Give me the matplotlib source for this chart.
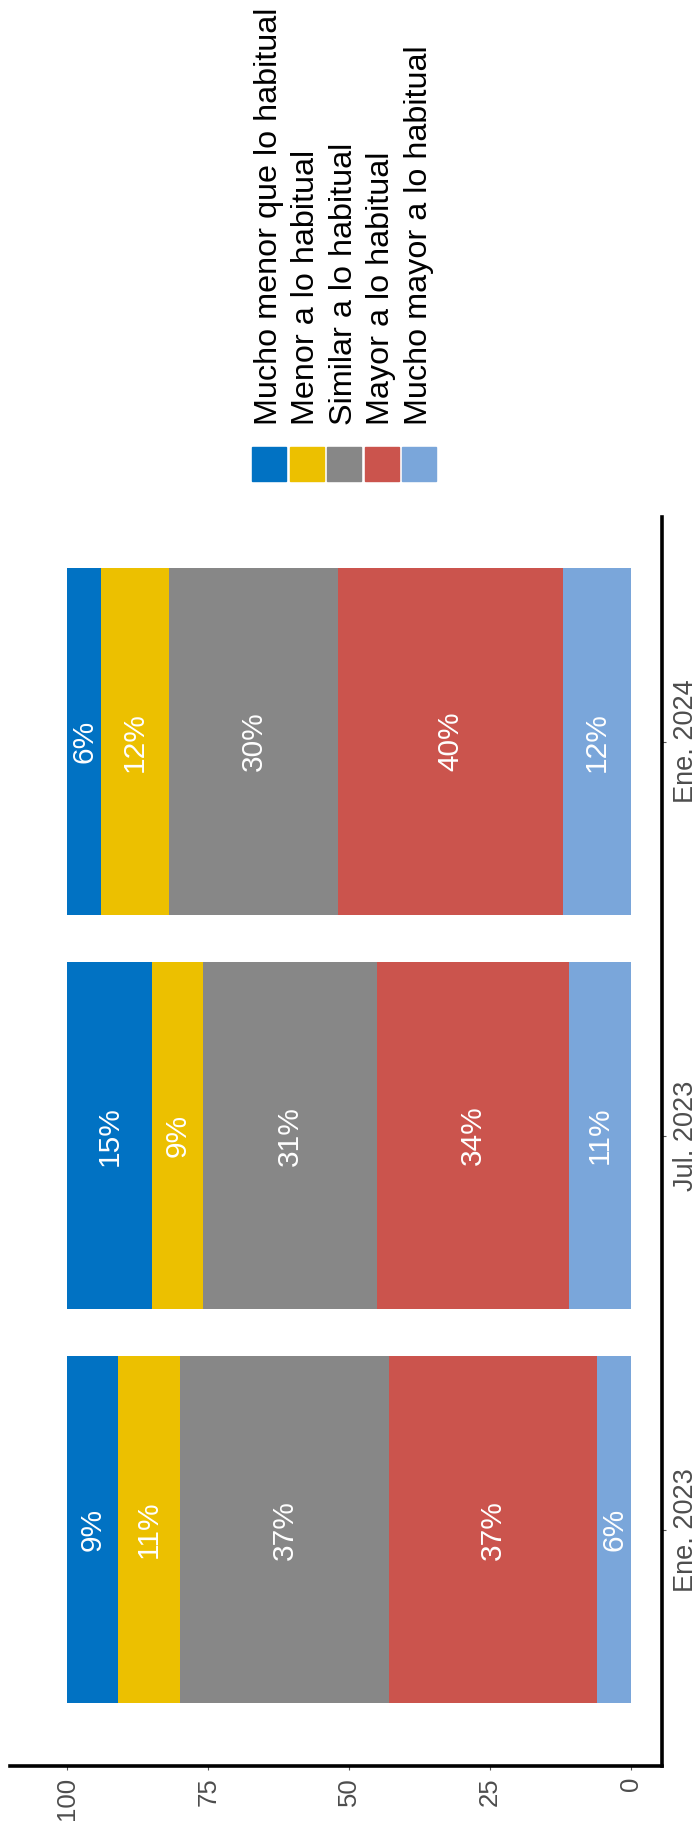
import matplotlib
matplotlib.use("Agg")
import matplotlib.pyplot as plt
from matplotlib.patches import Rectangle

plt.rcParams['font.family'] = ['Liberation Sans', 'DejaVu Sans']

# datos
periodos = ['Ene. 2023', 'Jul. 2023', 'Ene. 2024']
categorias = ['Mucho menor que lo habitual', 'Menor a lo habitual',
              'Similar a lo habitual', 'Mayor a lo habitual',
              'Mucho mayor a lo habitual']
colores = ['#0172C3', '#ECC000', '#878787', '#CB544D', '#7AA6DA']
mucho_menor = [9, 15, 6]
menor = [11, 9, 12]
similar = [37, 31, 30]
mayor = [37, 34, 40]
mucho_mayor = [6, 11, 12]
ticks_valor = [0, 25, 50, 75, 100]

W, H = 697, 1828
fig = plt.figure(figsize=(W / 100, H / 100), dpi=100)
# el grafico original esta girado 90 grados: se dibuja con barras horizontales
ax = fig.add_axes([10 / W, 1 - 1766 / H, (662 - 10) / W, (1766 - 517) / H])

series = [mucho_menor, menor, similar, mayor, mucho_mayor]
pos = list(range(len(periodos)))
base = [0] * len(periodos)
for nombre, valores, color in reversed(list(zip(categorias, series, colores))):
    ax.barh(pos, valores, left=base, height=0.88, color=color, label=nombre)
    for i, v in enumerate(valores):
        ax.text(base[i] + v / 2, i, f'{v}%', rotation=90, ha='center',
                va='center', color='white', fontsize=21.5)
    base = [b + v for b, v in zip(base, valores)]

ax.set_xlim(110.2, -5.5)
ax.set_ylim(-0.6, 2.57)

for lado in ['top', 'left']:
    ax.spines[lado].set_visible(False)
for lado in ['bottom', 'right']:
    ax.spines[lado].set_linewidth(2.6)
    ax.spines[lado].set_color('black')

ax.set_xticks(ticks_valor)
ax.set_xticklabels([str(t) for t in ticks_valor], rotation=90, va='top')
ax.tick_params(axis='x', length=3, width=0.8, color='#555555', pad=5,
               labelsize=18.5, labelcolor='#4D4D4D')

ax.yaxis.tick_right()
ax.set_yticks(pos)
ax.set_yticklabels(periodos, rotation=90, va='center')
ax.tick_params(axis='y', length=3, width=0.8, color='#555555', pad=5,
               labelsize=19.5, labelcolor='#4D4D4D')

# leyenda girada, dibujada a mano
for i, (nombre, color) in enumerate(zip(categorias, colores)):
    x0 = 252 + i * 37.5
    fig.add_artist(Rectangle((x0 / W, 1 - 481 / H), 34 / W, 34 / H,
                             color=color, transform=fig.transFigure))
    fig.text((x0 + 17) / W, 1 - 425 / H, nombre, rotation=90, ha='center',
             va='bottom', fontsize=23.3, color='black')

fig.savefig('out.png', dpi=100)
